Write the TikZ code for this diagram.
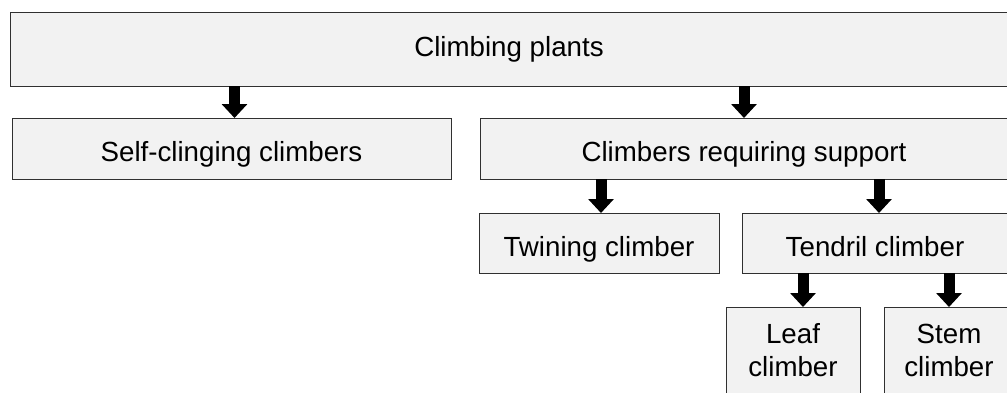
\documentclass[tikz,border=0pt]{standalone}
\usepackage{fontspec}
\setmainfont{Liberation Sans}
\usetikzlibrary{arrows.meta,calc}
\definecolor{boxfill}{HTML}{F2F2F2}
\definecolor{boxline}{HTML}{303030}
\begin{document}
\begin{tikzpicture}[x=1pt,y=-1pt,
  box/.style={draw=boxline, fill=boxfill, line width=1pt, anchor=north west,
    inner sep=0pt, outer sep=0pt, align=center,
    font=\fontsize{27.7}{33}\selectfont},
  bigbox/.style={box, text height=20pt, text depth=6pt},
  midbox/.style={box, text height=32pt, text depth=6pt},
  twobox/.style={box, text height=56pt, text depth=6pt},
  arr/.style={line width=11pt, -{Triangle[width=25pt,length=14pt]}, black}]
\useasboundingbox (0,0) rectangle (1007,392);
\clip (0,0) rectangle (1007,392);
\fill[white] (0,0) rectangle (1007,392);
\node[bigbox, minimum width=998pt, minimum height=74pt] (top) at (10,12) {Climbing plants};
\node[midbox, minimum width=439pt, minimum height=61pt] (self) at (12,118) {Self-clinging climbers};
\node[midbox, minimum width=528pt, minimum height=61pt] (req) at (480,118) {Climbers requiring support};
\node[midbox, minimum width=240pt, minimum height=60pt] (twin) at (479,213) {Twining climber};
\node[midbox, minimum width=266pt, minimum height=60pt] (tend) at (742,213) {Tendril climber};
\node[twobox, minimum width=134pt, minimum height=88pt] (leaf) at (726,307) {Leaf\\climber};
\node[twobox, minimum width=130pt, minimum height=88pt] (stem) at (884,307) {Stem\\climber};
\draw[arr] ([xshift=3pt]top.south -| self.north) -- ([xshift=3pt]self.north);
\draw[arr] (top.south -| req.north) -- (req.north);
\draw[arr] ([xshift=2pt]req.south -| twin.north) -- ([xshift=2pt]twin.north);
\draw[arr] ([xshift=4pt]req.south -| tend.north) -- ([xshift=4pt]tend.north);
\draw[arr] ([xshift=10pt]tend.south -| leaf.north) -- ([xshift=10pt]leaf.north);
\draw[arr] (tend.south -| stem.north) -- (stem.north);
\end{tikzpicture}
\end{document}
